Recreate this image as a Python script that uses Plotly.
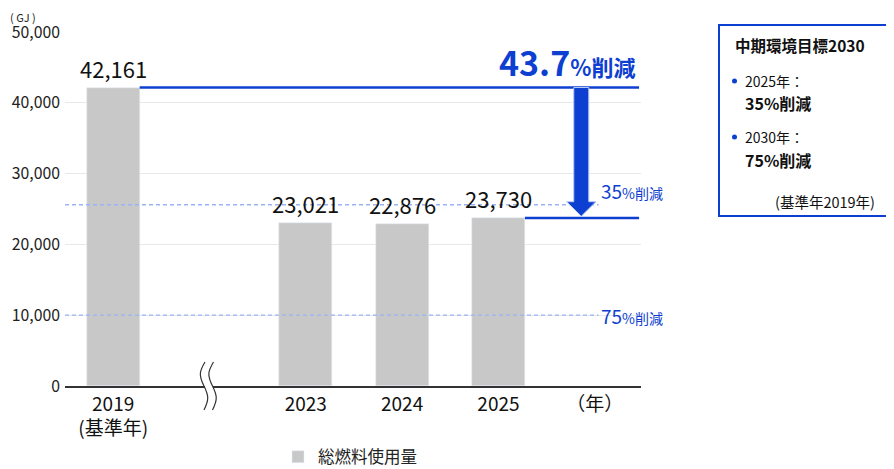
import plotly.graph_objects as go

FONT = "Noto Sans CJK JP"
BLUE = "#0d40d0"
LIGHTBLUE = "#9bb2f4"
GRAY = "#c8c8c8"

# ---- data ----
years = ["2019", "2023", "2024", "2025"]
xpos = [0, 2, 3, 4]
values = [42161, 23021, 22876, 23730]
tick_vals = [0, 2, 3, 4, 5]
tick_text = ["2019<br>(基準年)", "2023", "2024", "2025", "（年）"]
y_ticks = [0, 10000, 20000, 30000, 40000, 50000]
target35_line = 25600
target75_line = 10000
reduction_label = "43.7"

# page body has an 8px default margin
OFF = 8
W, H = 894 - OFF, 469 - OFF
# plot area in screen pixels
L, R, T, B = 65, 641, 32, 386
def px(x):
    return (x - L) / (R - L)
def py(y):
    return (B - y) / (B - T)

fig = go.Figure()
fig.add_trace(go.Bar(
    x=xpos, y=values, width=0.55, marker_color=GRAY, name="総燃料使用量",
    showlegend=True,
))

shapes = []
annotations = []

# value labels
for x, v in zip(xpos, values):
    annotations.append(dict(x=x, y=v, xref="x", yref="y", text=f"{v:,}",
                            showarrow=False, yanchor="bottom", yshift=2,
                            font=dict(family=FONT, size=22, color="#111")))

# dashed target lines
for yv in [target35_line, target75_line]:
    shapes.append(dict(type="line", xref="x", yref="y", x0=-0.5, x1=5.04,
                       y0=yv, y1=yv, line=dict(color=LIGHTBLUE, width=1.3, dash="4px,3px"),
                       layer="above"))

# blue solid lines
xr = 5.46
shapes.append(dict(type="line", xref="x", yref="y", x0=0.275, x1=xr,
                   y0=values[0], y1=values[0], line=dict(color=BLUE, width=2.5)))
shapes.append(dict(type="line", xref="x", yref="y", x0=4.275, x1=xr,
                   y0=values[3], y1=values[3], line=dict(color=BLUE, width=2.5)))

# arrow
ax = 4.86
sw, hw = 0.078, 0.152
top = values[0]
tip = values[3] + 250
head_top = tip + 2050
path = (f"M {ax-sw},{top} L {ax+sw},{top} L {ax+sw},{head_top} L {ax+hw},{head_top} "
        f"L {ax},{tip} L {ax-hw},{head_top} L {ax-sw},{head_top} Z")
shapes.append(dict(type="path", xref="x", yref="y", path=path,
                   fillcolor=BLUE, line=dict(color="#b9c8f5", width=1), layer="above"))

# big reduction label
annotations.append(dict(x=5.44, y=values[0], xref="x", yref="y", xanchor="right",
                        yanchor="bottom", yshift=0, showarrow=False,
                        text=f"<b><span style='font-size:34px'>{reduction_label}</span>"
                             f"<span style='font-size:22px'>%削減</span></b>",
                        font=dict(family=FONT, size=34, color=BLUE)))

# target labels
annotations.append(dict(x=5.04, y=target35_line, xref="x", yref="y", xanchor="left",
                        yanchor="middle", yshift=14, showarrow=False,
                        text="<span style='font-size:19px'>35</span><span style='font-size:14px'>%削減</span>",
                        font=dict(family=FONT, size=19, color=BLUE)))
annotations.append(dict(x=5.04, y=target75_line, xref="x", yref="y", xanchor="left",
                        yanchor="middle", yshift=0, showarrow=False,
                        text="<span style='font-size:19px'>75</span><span style='font-size:14px'>%削減</span>",
                        font=dict(family=FONT, size=19, color=BLUE)))

# axis unit
annotations.append(dict(x=px(9), y=py(8), xref="paper", yref="paper", xanchor="left",
                        yanchor="top", showarrow=False, text="( GJ )", borderpad=0,
                        font=dict(family=FONT, size=11, color="#222")))

# axis break symbol
bx = 1.0
def wave(xc):
    xs = lambda d: xc + d / 96.2
    return (f"M {xs(-1)},{py(362)} C {xs(-7)},{py(372)} {xs(-7)},{py(376)} {xs(-2)},{py(386)} "
            f"C {xs(3)},{py(396)} {xs(3)},{py(400)} {xs(-2)},{py(410)}")
shapes.append(dict(type="rect", xref="x", yref="paper", x0=bx - 4.5 / 96.2, x1=bx + 3.5 / 96.2,
                   y0=py(390), y1=py(382), fillcolor="white", line=dict(width=0), layer="above"))
for off in [-0.5, 8]:
    shapes.append(dict(type="path", xref="x", yref="paper", path=wave(bx + (off - 3) / 96.2),
                       line=dict(color="#333", width=1.2), layer="above"))

# right info box
shapes.append(dict(type="rect", xref="paper", yref="paper", x0=px(719), x1=px(890),
                   y0=py(216), y1=py(25), line=dict(color=BLUE, width=2), fillcolor="white"))
annotations.append(dict(x=px(733), y=py(45), xref="paper", yref="paper", xanchor="left",
                        yanchor="middle", showarrow=False, text="<b>中期環境目標2030</b>",
                        font=dict(family=FONT, size=15.5, color="#111")))
for yb, yr, pct in [(81, 103, "35"), (137, 160, "75")]:
    shapes.append(dict(type="circle", xref="paper", yref="paper",
                       x0=px(732), x1=px(737), y0=py(yb + 2.5), y1=py(yb - 2.5),
                       fillcolor=BLUE, line=dict(width=0)))
    annotations.append(dict(x=px(743), y=py(yb), xref="paper", yref="paper", xanchor="left",
                            yanchor="middle", showarrow=False,
                            text=("2025年：" if pct == "35" else "2030年："),
                            font=dict(family=FONT, size=14, color="#111")))
    annotations.append(dict(x=px(743), y=py(yr), xref="paper", yref="paper", xanchor="left",
                            yanchor="middle", showarrow=False, text=f"<b>{pct}%削減</b>",
                            font=dict(family=FONT, size=16, color="#111")))
annotations.append(dict(x=px(877), y=py(201), xref="paper", yref="paper", xanchor="right",
                        yanchor="middle", showarrow=False, text="(基準年2019年)",
                        font=dict(family=FONT, size=14.5, color="#111")))

fig.update_layout(
    width=W, height=H,
    margin=dict(l=L - OFF, r=894 - R, t=T - OFF, b=469 - B, autoexpand=False),
    plot_bgcolor="white", paper_bgcolor="white",
    font=dict(family=FONT, color="#222"),
    shapes=shapes, annotations=annotations,
    bargap=0,
    legend=dict(orientation="h", x=px(278), xanchor="left", y=py(457), yanchor="middle",
                font=dict(family=FONT, size=16.5, color="#222"), bgcolor="rgba(0,0,0,0)"),
    xaxis=dict(range=[-0.5, 5.48], tickvals=tick_vals, ticktext=tick_text, automargin=False,
               showgrid=False, zeroline=False, showline=True, linecolor="#333", linewidth=1.5,
               ticks="", tickfont=dict(family=FONT, size=19, color="#111")),
    yaxis=dict(range=[0, 50000], tickvals=y_ticks, tickformat=",", automargin=False,
               showgrid=True, gridcolor="#e8e8e8", gridwidth=1, zeroline=False,
               ticks="", ticklabelstandoff=4, tickfont=dict(family=FONT, size=15.8, color="#222")),
)

fig.write_html("out.html")
